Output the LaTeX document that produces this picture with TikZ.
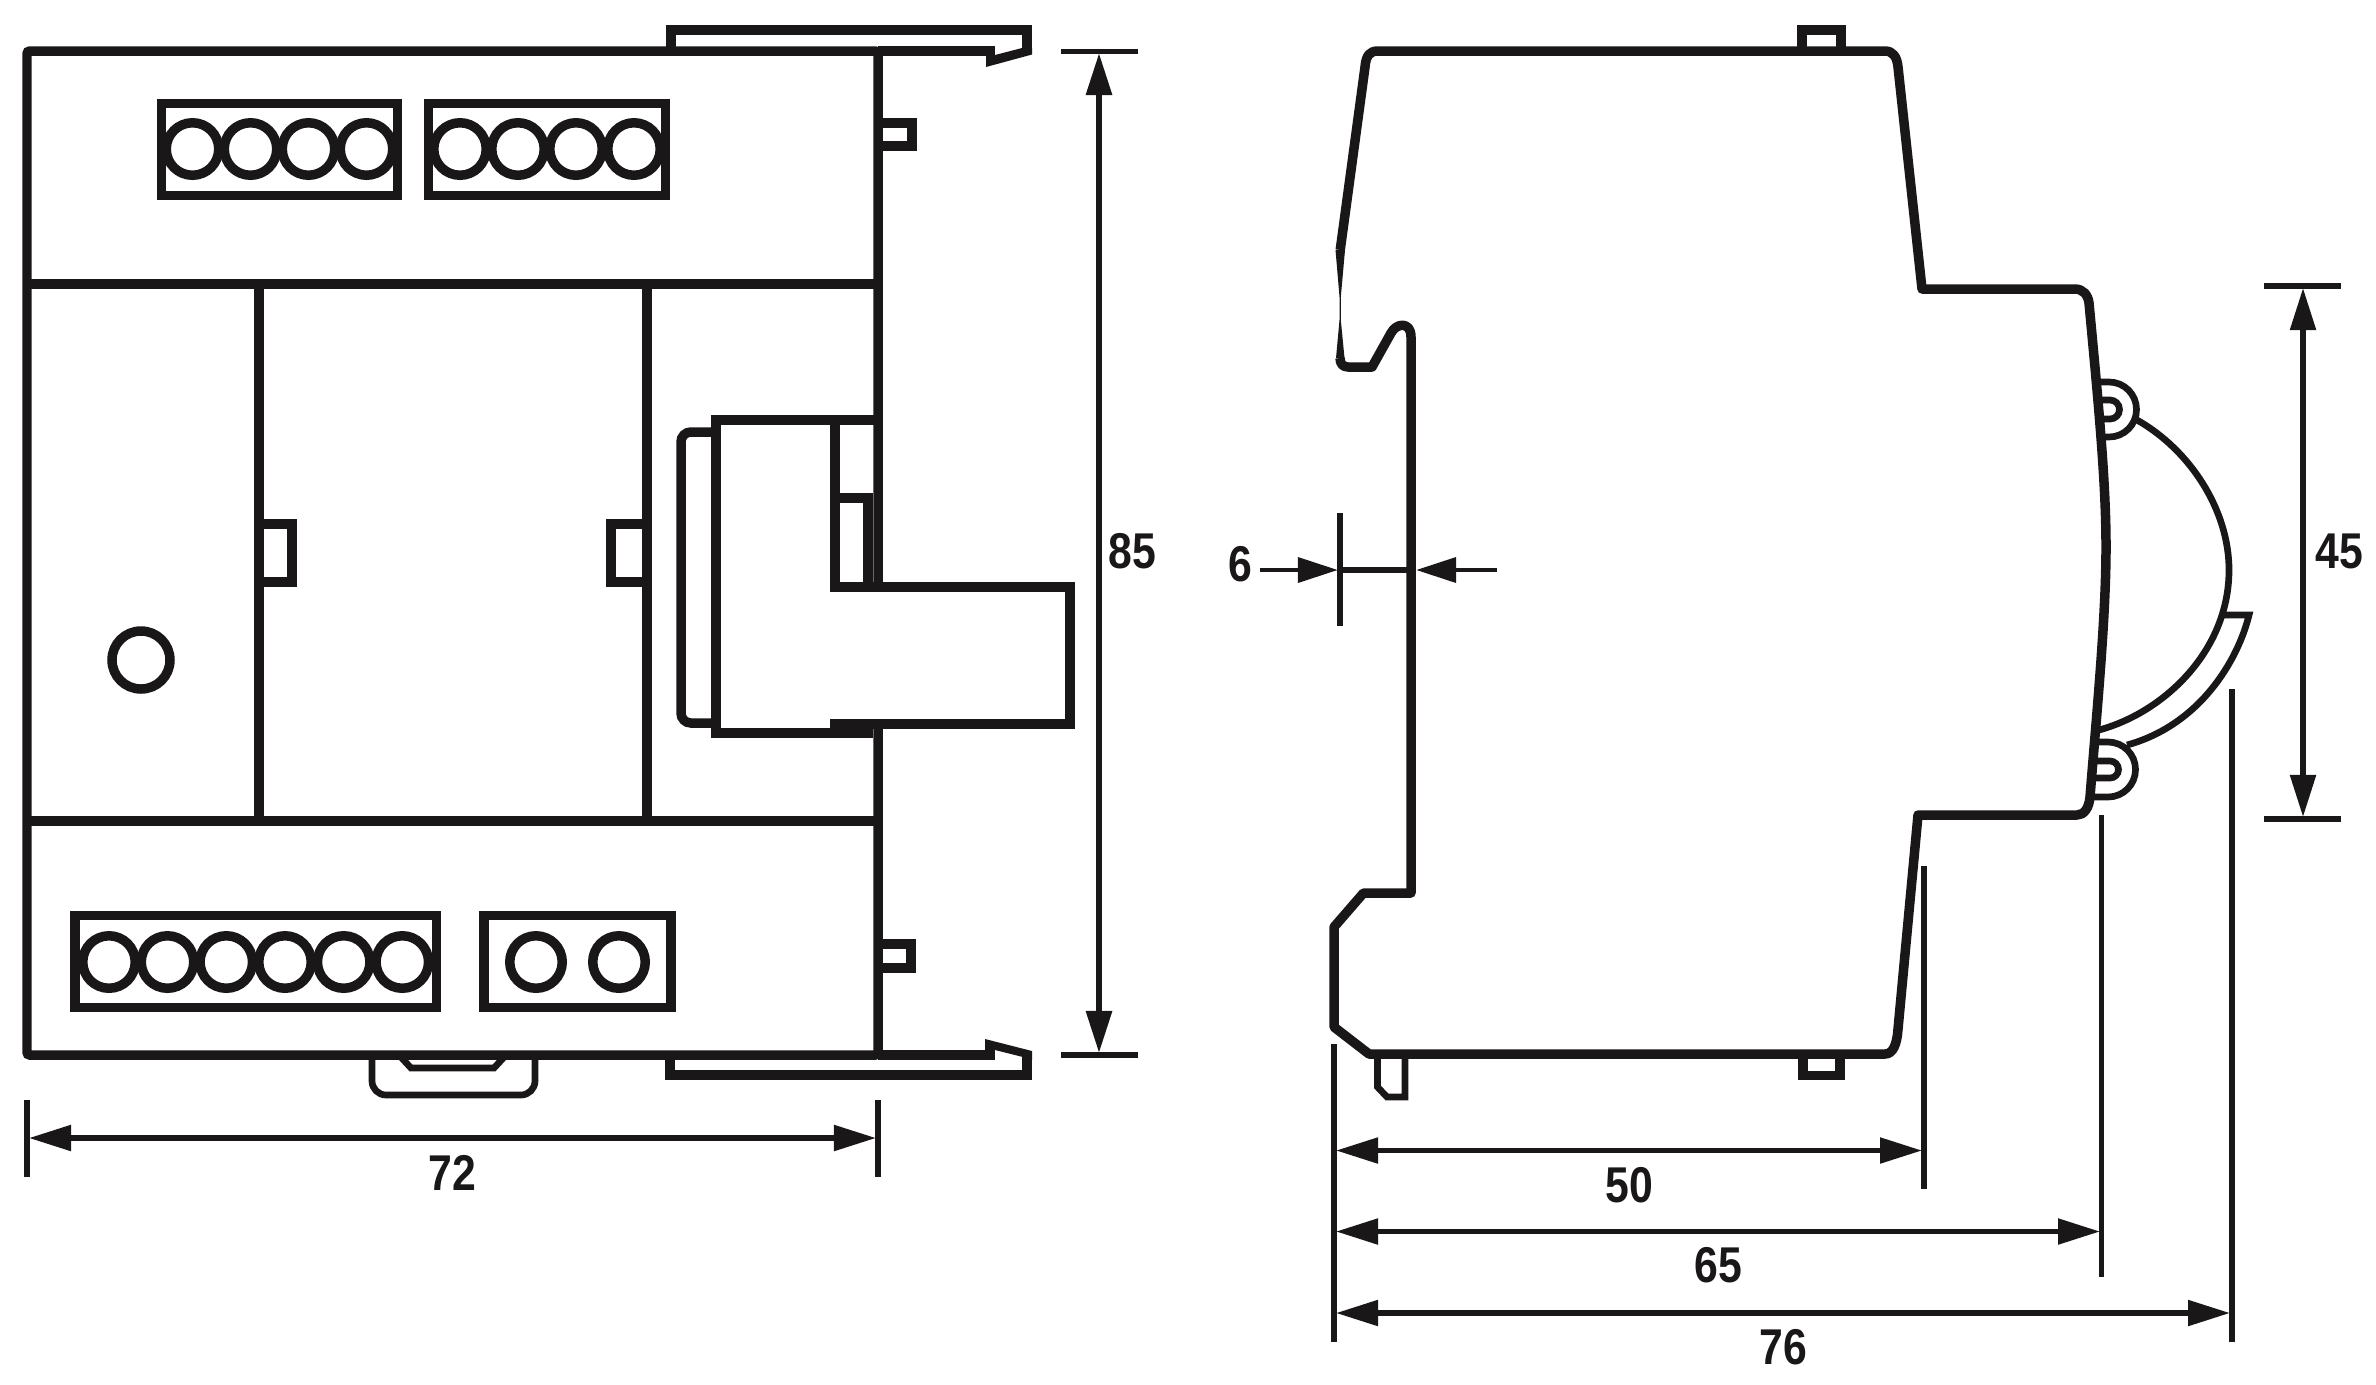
\documentclass[tikz,border=0pt]{standalone}
\usepackage{fontspec}
\setmainfont[FakeStretch=0.85]{Liberation Sans}
\usepackage{tikz}
\usetikzlibrary{arrows.meta, positioning}

\definecolor{ink}{HTML}{1A1718}
\tikzset{
    part/.style={draw=ink, line width=2.7pt},
    thinpart/.style={draw=ink, line width=1.9pt},
    extline/.style={draw=ink, line width=1.45pt},
    dimline/.style={draw=ink, line width=1.5pt, {Triangle[length=4.2mm, width=2.5mm]}-{Triangle[length=4.2mm, width=2.5mm]}},
    dimstub/.style={draw=ink, line width=1.4pt, -{Triangle[length=4mm, width=2.45mm]}},
    dimlabel/.style={text=ink, inner sep=0pt, font=\bfseries\fontsize{14.3}{16}\selectfont},
}

\begin{document}
\begin{tikzpicture}[x=0.01cm, y=-0.01cm]
    \useasboundingbox (0, 0) rectangle (2376, 1384);

    % front view
    \draw[part, rounded corners=0.8pt] (27, 51) rectangle (878, 1055);
    \draw[part] (27, 284) -- (878, 284);
    \draw[part] (27, 821) -- (878, 821);
    \draw[part] (259, 284) -- (259, 821);
    \draw[part] (647, 284) -- (647, 821);

    \draw[part] (259, 524) -- (292, 524) -- (292, 582) -- (259, 582);
    \draw[part] (647, 524) -- (611, 524) -- (611, 582) -- (647, 582);
    \draw[part] (878, 123) -- (912, 123) -- (912, 146) -- (878, 146);
    \draw[part] (878, 944) -- (911, 944) -- (911, 968) -- (878, 968);
    \draw[part] (141, 660) circle[radius=29];

    % top and bottom clips
    \draw[part] (878, 51) -- (995, 51);
    \draw[part] (671, 51) -- (671, 30) -- (1027, 30) -- (1027, 50);
    \fill[ink] (986, 55) -- (995, 55) -- (1022, 48) -- (1032, 48) -- (1032, 54.5) -- (986, 67) -- cycle;
    \draw[part] (878, 1055) -- (995, 1055);
    \draw[part] (670, 1055) -- (670, 1075) -- (1027, 1075) -- (1027, 1052);
    \fill[ink] (985, 1039) -- (1032, 1051) -- (1032, 1060) -- (1023, 1057) -- (995, 1050) -- (985, 1050) -- cycle;

    % rail foot
    \draw[thinpart, rounded corners=4pt] (372, 1055) -- (372, 1095) -- (535, 1095) -- (535, 1055);
    \draw[thinpart] (399, 1055) -- (411, 1068) -- (494, 1068) -- (506, 1055);

    % terminal blocks
    \draw[part] (161.5, 103.5) rectangle (397.5, 195.5);
    \draw[part] (428.5, 103.5) rectangle (665.5, 195.5);
    \draw[part] (75, 915.5) rectangle (436.5, 1007.5);
    \draw[part] (484, 915.5) rectangle (671, 1007.5);
    \foreach \x in {192.5, 250.5, 308.5, 366.5, 460, 518, 576, 634}
        \draw[part] (\x, 149) circle[radius=26.25];
    \foreach \x in {109, 167.5, 226.3, 285, 343.7, 402.3, 536, 619}
        \draw[part] (\x, 962) circle[radius=26.25];

    % handle
    \draw[part, rounded corners=2.8pt] (716, 432) -- (681, 432) -- (681, 723) -- (716, 723);
    \draw[part, fill=white] (716, 733) -- (868, 733) -- (868, 724) -- (1070, 724) -- (1070, 587) -- (835, 587) -- (835, 420) -- (716, 420) -- cycle;
    \draw[part] (835, 420) -- (878, 420);
    \draw[part] (830, 724) -- (868, 724);
    \draw[part] (835, 498) -- (868, 498) -- (868, 587);

    % side view
    \fill[ink] (1335.5, 250) -- (1345, 250) -- (1340.8, 297) -- (1340.8, 320) -- (1344.5, 358) -- (1336, 358) -- (1339.5, 320) -- (1339.5, 297) -- cycle;
    \draw[part, line join=round] (1340.2, 250) -- (1365, 67) .. controls (1366, 55) and (1370, 51) .. (1378, 51)
        -- (1885, 51) .. controls (1893, 51) and (1897, 57) .. (1898, 67)
        -- (1922, 289) -- (2075, 289) .. controls (2083, 289) and (2088, 295) .. (2089, 303)
        .. controls (2098, 400) and (2106, 480) .. (2106, 547)
        .. controls (2106, 620) and (2096, 720) .. (2090, 797)
        .. controls (2089, 808) and (2084, 815) .. (2077, 815)
        -- (1918, 815) -- (1898, 1029) .. controls (1897, 1044) and (1893, 1054) .. (1885, 1054)
        -- (1369, 1054) -- (1334, 1027) -- (1334, 927) -- (1363.5, 893) -- (1411, 893)
        -- (1411, 337) .. controls (1411, 321) and (1396, 323) .. (1391, 333)
        -- (1372, 367) -- (1348, 367) .. controls (1343, 367) and (1340, 364) .. (1340, 358);

    \draw[part] (1802, 51) -- (1802, 30) -- (1841, 30) -- (1841, 51);
    \draw[part] (1803, 1054) -- (1803, 1075.5) -- (1840, 1075.5) -- (1840, 1054);
    \draw[thinpart] (1377.5, 1054) -- (1377.5, 1087) -- (1387, 1097) -- (1405, 1097) -- (1405, 1054);

    % rings and cover
    \draw[thinpart] (2100, 382) -- (2109, 382) arc[start angle=-90, end angle=90, radius=27.5] -- (2100, 437);
    \draw[thinpart] (2102, 400) -- (2110, 400) arc[start angle=-90, end angle=90, radius=9.5] -- (2102, 419);
    \draw[thinpart] (2094, 742) -- (2108, 742) arc[start angle=-90, end angle=90, radius=27.5] -- (2092, 797);
    \draw[thinpart] (2096, 761) -- (2110, 761) arc[start angle=-90, end angle=90, radius=8.5] -- (2094, 778);
    \draw[thinpart] (2137, 420) .. controls (2190, 450) and (2229, 510) .. (2229, 570)
        .. controls (2229, 650) and (2165, 712) .. (2099, 730);
    \draw[thinpart] (2222, 615) -- (2249, 615) .. controls (2238, 660) and (2200, 725) .. (2127, 745);

    % dimensions front view
    \draw[extline] (27, 1100) -- (27, 1177);
    \draw[extline] (878, 1100) -- (878, 1177);
    \draw[dimline] (29, 1138) -- (876, 1138);
    \node[dimlabel] (width72) at (452, 1173) {72};

    \draw[extline] (1061, 51.5) -- (1138, 51.5);
    \draw[extline] (1061, 1055) -- (1138, 1055);
    \draw[dimline, line width=1.7pt] (1099, 53) -- (1099, 1053);
    \node[dimlabel] (height85) at (1132, 551) {85};

    % dimensions side view
    \draw[extline] (1340, 513) -- (1340, 626);
    \draw[extline] (1340, 570) -- (1411, 570);
    \draw[dimstub] (1260, 570) -- (1338, 570);
    \draw[dimstub] (1497, 570) -- (1416, 570);
    \node[dimlabel] (rail6) at (1240.5, 564.5) {6};

    \draw[extline] (1334, 1044) -- (1334, 1342);
    \draw[extline] (1924, 866) -- (1924, 1189);
    \draw[extline] (2101.5, 815) -- (2101.5, 1277);
    \draw[extline] (2232, 689) -- (2232, 1342);
    \draw[dimline] (1336, 1150.5) -- (1922, 1150.5);
    \draw[dimline] (1336, 1231.5) -- (2100, 1231.5);
    \draw[dimline] (1336, 1313) -- (2230, 1313);
    \node[dimlabel] (depth50) at (1629, 1185) {50};
    \node[dimlabel] (depth65) at (1718, 1265) {65};
    \node[dimlabel] (depth76) at (1783, 1347) {76};

    \draw[extline] (2264, 286) -- (2341, 286);
    \draw[extline] (2264, 819) -- (2341, 819);
    \draw[dimline] (2303, 288) -- (2303, 817);
    \node[dimlabel] (height45) at (2339, 551) {45};
\end{tikzpicture}
\end{document}
